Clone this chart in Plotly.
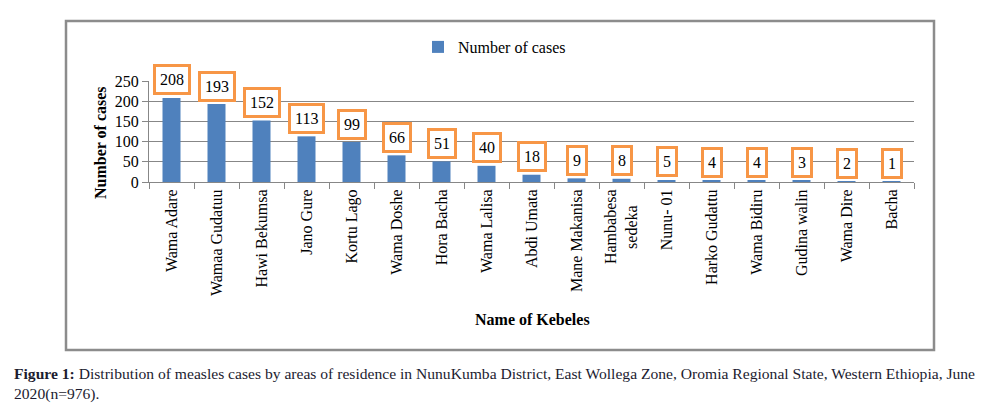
import plotly.graph_objects as go

kebeles = ["Wama Adare", "Wamaa Gudatuu", "Hawi Bekumsa", "Jano Gure", "Kortu Lago",
           "Wama Doshe", "Hora Bacha", "Wama Lalisa", "Abdi Umata", "Mane Makanisa",
           "Hambabesa<br>sedeka&nbsp;&nbsp;&nbsp;&nbsp;", "Nunu- 01", "Harko Gudattu", "Wama Bidiru",
           "Gudina walin", "Wama Dire", "Bacha"]
cases = [208, 193, 152, 113, 99, 66, 51, 40, 18, 9, 8, 5, 4, 4, 3, 2, 1]
y_ticks = [0, 50, 100, 150, 200, 250]

SERIF = "Liberation Serif"
GRID = "#878787"

fig = go.Figure()
fig.add_trace(go.Bar(
    x=kebeles, y=cases, name="Number of cases",
    marker=dict(color="#4F81BD", line=dict(width=0)),
    width=0.4,
))

# data labels in orange boxes
for k, v in zip(kebeles, cases):
    fig.add_annotation(
        x=k, y=v, xref="x", yref="y", text=str(v), showarrow=False,
        xanchor="center", yanchor="middle", yshift=18,
        font=dict(family=SERIF, size=16, color="black"),
        bgcolor="white", bordercolor="#F79646", borderwidth=3, borderpad=4,
    )

L, R, T, B = 149, 82, 81, 223
W, H = 996, 405
pw, ph = W - L - R, H - T - B

def px_x(px):
    return (px - L) / pw

def px_y(py):
    return (H - B - py) / ph

# outer frame
fig.add_shape(type="rect", xref="paper", yref="paper",
              x0=px_x(66), x1=px_x(934), y0=px_y(350), y1=px_y(21),
              line=dict(color="#8c8c8c", width=2.5), layer="below")

# axis titles
fig.add_annotation(xref="paper", yref="paper", x=px_x(532), y=px_y(319),
                   xanchor="center", yanchor="middle",
                   text="<b>Name of Kebeles</b>", showarrow=False,
                   font=dict(family=SERIF, size=16, color="black"))
fig.add_annotation(xref="paper", yref="paper", x=px_x(100), y=px_y(143),
                   xanchor="center", yanchor="middle",
                   text="<b>Number of cases</b>", showarrow=False, textangle=-90,
                   font=dict(family=SERIF, size=16, color="black"))

# caption
fig.add_annotation(xref="paper", yref="paper", x=px_x(12), y=px_y(363),
                   xanchor="left", yanchor="top", align="left", showarrow=False,
                   text="<b>Figure 1:</b> Distribution of measles cases by areas of residence in NunuKumba District, East Wollega Zone, Oromia Regional State, Western Ethiopia, June<br>2020(n=976).",
                   font=dict(family=SERIF, size=15.6, color="#1c1c30"))

fig.update_layout(
    width=W, height=H,
    margin=dict(l=L, r=R, t=T, b=B, autoexpand=False),
    paper_bgcolor="white", plot_bgcolor="white",
    bargap=0.6,
    showlegend=True,
    legend=dict(orientation="h", x=px_x(418), y=px_y(47), xanchor="left", yanchor="middle",
                font=dict(family=SERIF, size=16, color="black"), bgcolor="rgba(0,0,0,0)"),
    xaxis=dict(
        tickangle=-90, tickfont=dict(family=SERIF, size=16, color="black"),
        tickson="boundaries", ticks="outside", ticklen=6, tickcolor=GRID,
        showline=True, linecolor=GRID, linewidth=1, showgrid=False,
        automargin=False,
    ),
    yaxis=dict(
        range=[0, 250], tickvals=y_ticks,
        tickfont=dict(family=SERIF, size=16, color="black"),
        showgrid=True, gridcolor=GRID, gridwidth=1,
        showline=True, linecolor=GRID, linewidth=1,
        ticks="outside", ticklen=6, tickcolor=GRID,
        zeroline=False, automargin=False,
    ),
)

fig.write_html("out.html", config={"displayModeBar": False},
               post_script="document.body.style.margin='0';")
